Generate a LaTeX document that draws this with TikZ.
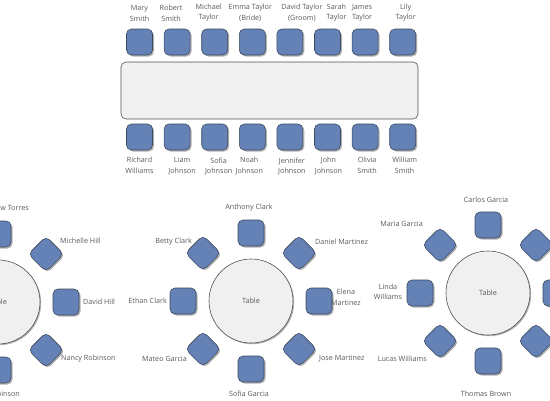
\documentclass[tikz,border=0pt]{standalone}
\usepackage{fontspec}
\setmainfont{Open Sans}
\usepackage{xcolor}
\usepackage{tikz}
\usetikzlibrary{positioning,calc,shadows}
\definecolor{chairblue}{HTML}{6482B6}
\definecolor{chairline}{HTML}{3C4A60}
\definecolor{tablefill}{HTML}{F0F0F0}
\definecolor{tableline}{HTML}{505050}
\definecolor{nametext}{HTML}{595959}
\tikzset{
  chair/.style={draw=chairline, fill=chairblue, rounded corners=5pt, minimum size=26pt,
                inner sep=0pt, line width=0.6pt,
                drop shadow={shadow xshift=1.5pt, shadow yshift=-1.5pt, fill=black, opacity=0.3}},
  chairdiag/.style={chair, rotate=45, minimum size=25pt},
  longtable/.style={draw=tableline, fill=tablefill, rounded corners=5pt, minimum width=297pt,
                    minimum height=57pt, line width=0.6pt},
  roundtable/.style={circle, draw=tableline, fill=tablefill, minimum size=84pt, inner sep=0pt,
                     line width=0.6pt, text=nametext, font=\fontsize{7.2}{10.5}\selectfont,
                     drop shadow={shadow xshift=1.2pt, shadow yshift=-1.2pt, fill=black, opacity=0.3}},
  guest/.style={font=\fontsize{7.2}{10.5}\selectfont, text=nametext, align=center, inner sep=1pt}
}

\begin{document}
\begin{tikzpicture}[x=1pt, y=-1pt, node distance=6pt]
\useasboundingbox (0,0) rectangle (550,400);

% long table
\node[longtable] (lt) at (269.5,90.5) {};
\node[chair] (t1) at (139.5,42) {};
\node[chair, right=11pt of t1] (t2) {};
\node[chair, right=11pt of t2] (t3) {};
\node[chair, right=11pt of t3] (t4) {};
\node[chair, right=11pt of t4] (t5) {};
\node[chair, right=11pt of t5] (t6) {};
\node[chair, right=11pt of t6] (t7) {};
\node[chair, right=11pt of t7] (t8) {};
\node[chair] (b1) at (139.5,137) {};
\node[chair, right=11pt of b1] (b2) {};
\node[chair, right=11pt of b2] (b3) {};
\node[chair, right=11pt of b3] (b4) {};
\node[chair, right=11pt of b4] (b5) {};
\node[chair, right=11pt of b5] (b6) {};
\node[chair, right=11pt of b6] (b7) {};
\node[chair, right=11pt of b7] (b8) {};

\node[guest, above=of t1] (nt1) {Mary\\Smith};
\node[guest, above=of t2, xshift=-6pt] (nt2) {Robert\\Smith};
\node[guest, above=of t3, xshift=-6pt] (nt3) {Michael\\Taylor};
\node[guest, above=of t4, xshift=-2pt] (nt4) {Emma Taylor\\(Bride)};
\node[guest, above=of t5, xshift=12pt] (nt5) {David Taylor\\(Groom)};
\node[guest, above=of t6, xshift=9pt] (nt6) {Sarah\\Taylor};
\node[guest, above=of t7, xshift=-3pt] (nt7) {James\\Taylor};
\node[guest, above=of t8, xshift=3pt] (nt8) {Lily\\Taylor};
\node[guest, below=of b1] (nb1) {Richard\\Williams};
\node[guest, below=of b2, xshift=5pt] (nb2) {Liam\\Johnson};
\node[guest, below=of b3, xshift=4pt] (nb3) {Sofia\\Johnson};
\node[guest, below=of b4, xshift=-3pt] (nb4) {Noah\\Johnson};
\node[guest, below=of b5, xshift=2pt] (nb5) {Jennifer\\Johnson};
\node[guest, below=of b6, xshift=1pt] (nb6) {John\\Johnson};
\node[guest, below=of b7, xshift=2pt] (nb7) {Olivia\\Smith};
\node[guest, below=of b8, xshift=2pt] (nb8) {William\\Smith};

% round table 1
\node[roundtable] (rt1) at (-2,302) {Table};
\node[chair] (c1n) at ($(rt1)+(0,-68)$) {};
\node[chairdiag] (c1ne) at ($(rt1)+(48,-48)$) {};
\node[chair] (c1e) at ($(rt1)+(68,0)$) {};
\node[chairdiag] (c1se) at ($(rt1)+(48,48)$) {};
\node[chair] (c1s) at ($(rt1)+(0,68)$) {};
\node[guest, anchor=east] (n1n) at (30,208) {Andrew Torres};
\node[guest, anchor=west] (n1ne) at (59,241) {Michelle Hill};
\node[guest, anchor=west] (n1e) at (82,302) {David Hill};
\node[guest, anchor=west] (n1se) at (60,359) {Nancy Robinson};
\node[guest, anchor=east] (n1s) at (21,394) {Mark Robinson};

% round table 2
\node[roundtable] (rt2) at (251,301) {Table};
\node[chair] (c2n) at ($(rt2)+(0,-68)$) {};
\node[chairdiag] (c2ne) at ($(rt2)+(48,-48)$) {};
\node[chair] (c2e) at ($(rt2)+(68,0)$) {};
\node[chairdiag] (c2se) at ($(rt2)+(48,48)$) {};
\node[chair] (c2s) at ($(rt2)+(0,68)$) {};
\node[chairdiag] (c2sw) at ($(rt2)+(-48,48)$) {};
\node[chair] (c2w) at ($(rt2)+(-68,0)$) {};
\node[chairdiag] (c2nw) at ($(rt2)+(-48,-48)$) {};
\node[guest] (n2n) at (249,208) {Anthony Clark};
\node[guest, anchor=west] (n2ne) at (314,242) {Daniel Martinez};
\node[guest] (n2e) at (346,297.5) {Elena\\Martinez};
\node[guest, anchor=west] (n2se) at (318,359) {Jose Martinez};
\node[guest] (n2s) at (249,394) {Sofia Garcia};
\node[guest, anchor=east] (n2sw) at (188,359) {Mateo Garcia};
\node[guest, anchor=east] (n2w) at (168,301) {Ethan Clark};
\node[guest, anchor=east] (n2nw) at (193,242) {Betty Clark};

% round table 3
\node[roundtable] (rt3) at (488,293) {Table};
\node[chair] (c3n) at ($(rt3)+(0,-68)$) {};
\node[chairdiag] (c3ne) at ($(rt3)+(48,-48)$) {};
\node[chair] (c3e) at ($(rt3)+(68,0)$) {};
\node[chairdiag] (c3se) at ($(rt3)+(48,48)$) {};
\node[chair] (c3s) at ($(rt3)+(0,68)$) {};
\node[chairdiag] (c3sw) at ($(rt3)+(-48,48)$) {};
\node[chair] (c3w) at ($(rt3)+(-68,0)$) {};
\node[chairdiag] (c3nw) at ($(rt3)+(-48,-48)$) {};
\node[guest] (n3n) at (486,200) {Carlos Garcia};
\node[guest, anchor=east] (n3nw) at (424,224) {Maria Garcia};
\node[guest] (n3w) at (388,292) {Linda\\Williams};
\node[guest, anchor=east] (n3sw) at (428,359) {Lucas Williams};
\node[guest] (n3s) at (486,394) {Thomas Brown};
\end{tikzpicture}
\end{document}
